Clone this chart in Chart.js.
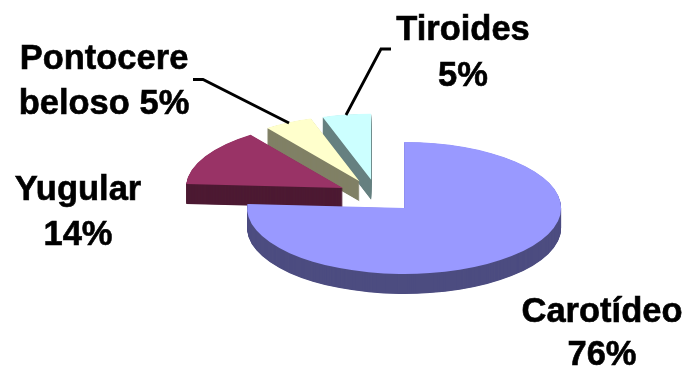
<!DOCTYPE html>
<html>
<head>
<meta charset="utf-8">
<style>
  html, body { margin: 0; padding: 0; background: #fff; }
  canvas { display: block; }
</style>
<script src="https://cdn.jsdelivr.net/npm/chart.js@4"></script>
</head>
<body>
<canvas id="pie" width="685" height="373"></canvas>
<script>
const categories = ['Carotídeo', 'Yugular', 'Pontocerebeloso', 'Tiroides'];
const shares = [76, 14, 5, 5];
const topColors = ['#9999FF', '#993366', '#FFFFCC', '#CCFFFF'];
const wallColors = ['#4D4D80', '#4D1A33', '#808066', '#668080'];

// text is broken over two lines the same way for every slice
const calloutLines = [
  ['Carotídeo', '76%'],
  ['Yugular', '14%'],
  ['Pontocere', 'beloso 5%'],
  ['Tiroides', '5%'],
];
const calloutAnchors = [
  { x: 602, y: [322, 365] },
  { x: 78, y: [200, 245] },
  { x: 104, y: [69, 114] },
  { x: 463, y: [39.5, 86] },
];
const leaders = [
  [[193, 79.5], [203, 79.5], [289, 123]],
  [[391, 49], [381, 49], [346, 115]],
];

const TILT = 0.42;
const DEPTH = 20;
const EXPLODE = 0.25;

// flattened, exploded pie: each arc is stamped downwards for the wall, then once for the lid
const pie3d = {
  id: 'pie3d',
  beforeDatasetDraw(chart, args) {
    const ctx = chart.ctx;
    const arcs = args.meta.data;
    // back slices first so the big one sits on top
    for (let i = arcs.length - 1; i >= 0; i--) {
      const arc = arcs[i];
      const mid = (arc.startAngle + arc.endAngle) / 2;
      const dx = Math.cos(mid) * arc.outerRadius * EXPLODE;
      const dy = Math.sin(mid) * arc.outerRadius * EXPLODE;
      const base = arc.options;
      const stamp = (drop, color) => {
        ctx.save();
        ctx.translate(arc.x, arc.y + drop);
        ctx.scale(1, TILT);
        ctx.translate(dx - arc.x, dy - arc.y);
        arc.options = { ...base, backgroundColor: color };
        arc.draw(ctx);
        ctx.restore();
      };
      for (let d = DEPTH; d > 0; d -= 0.5) stamp(d, wallColors[i]);
      stamp(0, topColors[i]);
      arc.options = base;
    }
    return false;
  },
  afterDraw(chart) {
    const ctx = chart.ctx;
    ctx.save();
    ctx.strokeStyle = '#000';
    ctx.lineWidth = 2.8;
    leaders.forEach((pts) => {
      ctx.beginPath();
      pts.forEach((p, i) => (i ? ctx.lineTo(p[0], p[1]) : ctx.moveTo(p[0], p[1])));
      ctx.stroke();
    });
    ctx.fillStyle = '#000';
    ctx.font = 'bold 34.5px "Liberation Sans", Arial, sans-serif';
    ctx.textAlign = 'center';
    ctx.textBaseline = 'alphabetic';
    // thin outline to thicken the bold a little
    ctx.lineWidth = 0.6;
    calloutLines.forEach((lines, i) => {
      lines.forEach((line, j) => {
        ctx.fillText(line, calloutAnchors[i].x, calloutAnchors[i].y[j]);
        ctx.strokeText(line, calloutAnchors[i].x, calloutAnchors[i].y[j]);
      });
    });
    ctx.restore();
  },
};

new Chart(document.getElementById('pie'), {
  type: 'pie',
  data: {
    labels: categories,
    datasets: [{
      data: shares,
      backgroundColor: topColors,
      borderWidth: 0,
      radius: 157,
    }],
  },
  options: {
    responsive: false,
    animation: false,
    events: [],
    layout: { padding: { left: 69.5, top: 19 } },
    plugins: {
      legend: { display: false },
      tooltip: { enabled: false },
    },
  },
  plugins: [pie3d],
});
</script>
</body>
</html>
